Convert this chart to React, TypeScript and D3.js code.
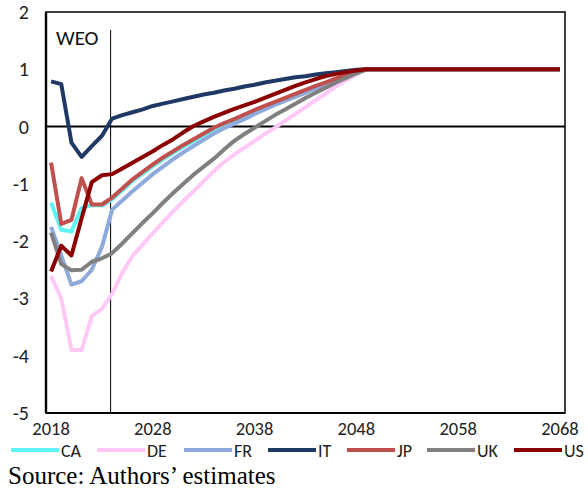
import * as d3 from "d3"

// years 2018..2068, one point per year
const years = d3.range(2018, 2069)

const xTicks = [2018, 2028, 2038, 2048, 2058, 2068]
const yTicks = [2, 1, 0, -1, -2, -3, -4, -5]

// WEO horizon marker (just before 2024 point)
const weoYear = 2023.85

const countries = ["CA", "DE", "FR", "IT", "JP", "UK", "US"]
const colors = ["#5ff4f4", "#ffc8f6", "#8eaadc", "#1f3864", "#c0504d", "#808080", "#8b0000"]

const flat = [1, 1, 1, 1, 1, 1, 1, 1, 1, 1, 1, 1, 1, 1, 1, 1, 1, 1, 1, 1]

const ca = [-1.33, -1.8, -1.83, -1.42, -1.37, -1.38, -1.27, -1.11, -0.95, -0.82, -0.69, -0.57, -0.46, -0.35, -0.25, -0.15, -0.05, 0.03, 0.1, 0.18, 0.26, 0.33, 0.4, 0.47, 0.54, 0.61, 0.68, 0.74, 0.81, 0.87, 0.93, ...flat]
const de = [-2.61, -3.0, -3.9, -3.9, -3.31, -3.18, -2.92, -2.55, -2.26, -2.06, -1.86, -1.67, -1.48, -1.3, -1.13, -0.95, -0.78, -0.62, -0.49, -0.37, -0.25, -0.13, -0.02, 0.1, 0.22, 0.34, 0.46, 0.58, 0.7, 0.81, 0.91, ...flat]
const fr = [-1.75, -2.25, -2.76, -2.7, -2.5, -2.1, -1.45, -1.29, -1.13, -0.98, -0.83, -0.7, -0.57, -0.45, -0.34, -0.23, -0.12, -0.03, 0.05, 0.13, 0.22, 0.3, 0.38, 0.45, 0.52, 0.59, 0.66, 0.73, 0.8, 0.87, 0.94, ...flat]
const it = [0.79, 0.74, -0.28, -0.53, -0.34, -0.16, 0.14, 0.2, 0.25, 0.3, 0.36, 0.4, 0.44, 0.48, 0.52, 0.56, 0.59, 0.63, 0.66, 0.7, 0.73, 0.77, 0.8, 0.83, 0.86, 0.88, 0.91, 0.93, 0.95, 0.97, 0.99, ...flat]
const jp = [-0.63, -1.7, -1.63, -0.9, -1.36, -1.36, -1.24, -1.08, -0.92, -0.79, -0.66, -0.54, -0.43, -0.32, -0.22, -0.12, -0.02, 0.06, 0.13, 0.21, 0.29, 0.36, 0.43, 0.5, 0.57, 0.64, 0.71, 0.77, 0.84, 0.9, 0.96, ...flat]
const uk = [-1.85, -2.4, -2.51, -2.5, -2.36, -2.3, -2.21, -2.04, -1.86, -1.68, -1.51, -1.33, -1.16, -1.0, -0.84, -0.7, -0.56, -0.4, -0.25, -0.13, -0.02, 0.09, 0.2, 0.3, 0.4, 0.5, 0.59, 0.68, 0.77, 0.85, 0.93, ...flat]
const us = [-2.53, -2.08, -2.25, -1.6, -0.97, -0.85, -0.83, -0.73, -0.63, -0.53, -0.43, -0.32, -0.22, -0.1, 0.01, 0.09, 0.17, 0.24, 0.31, 0.37, 0.43, 0.5, 0.57, 0.64, 0.71, 0.77, 0.83, 0.88, 0.92, 0.95, 0.98, ...flat]

const series = [ca, de, fr, it, jp, uk, us]

// legend item left edges (line start)
const legendX = [11, 97, 184, 268, 347, 427, 514]

const W = 588
const H = 489
const left = 46
const right = 565
const top = 12
const bottom = 413

const sans = "Carlito, Calibri, 'Open Sans', sans-serif"

export default function App() {
  const x = d3.scaleLinear().domain([2017.5, 2068.5]).range([left, right])
  const y = d3.scaleLinear().domain([-5, 2]).range([bottom, top])

  const line = d3
    .line<number>()
    .x((_, i) => x(years[i]))
    .y((d) => y(d))

  return (
    <svg
      width={W}
      height={H}
      style={{ position: "absolute", left: 0, top: 0, background: "#fff" }}
    >
      {/* plot frame */}
      <rect x={left} y={top} width={right - left} height={bottom - top} fill="none" stroke="#111" strokeWidth={1.6} />
      <line x1={left} x2={left} y1={top} y2={bottom} stroke="#000" strokeWidth={2.4} />
      <line x1={left} x2={right} y1={bottom} y2={bottom} stroke="#000" strokeWidth={2.2} />

      {/* zero line */}
      <line x1={left} x2={right} y1={y(0)} y2={y(0)} stroke="#000" strokeWidth={2} />

      {/* WEO marker */}
      <line x1={x(weoYear)} x2={x(weoYear)} y1={30} y2={bottom} stroke="#000" strokeWidth={1} />
      <text x={56} y={45} fontFamily={sans} fontSize={21} fill="#111">
        WEO
      </text>

      {/* series */}
      {series.map((s, i) => (
        <path
          key={countries[i]}
          d={line(s) ?? ""}
          fill="none"
          stroke={colors[i]}
          strokeWidth={4}
          strokeLinejoin="round"
        />
      ))}

      {/* y tick labels */}
      {yTicks.map((t) => (
        <text
          key={t}
          x={29}
          y={y(t)}
          textAnchor="end"
          dominantBaseline="central"
          fontFamily={sans}
          fontSize={20}
          fill="#222"
        >
          {t}
        </text>
      ))}

      {/* x tick labels */}
      {xTicks.map((t) => (
        <text key={t} x={x(t)} y={435} textAnchor="middle" fontFamily={sans} fontSize={18.5} fill="#222">
          {t}
        </text>
      ))}

      {/* legend */}
      {countries.map((c, i) => (
        <g key={c} transform={`translate(${legendX[i]},450)`}>
          <line x1={0} x2={48} y1={0} y2={0} stroke={colors[i]} strokeWidth={4} />
          <text x={50} y={6.5} fontFamily={sans} fontSize={18} fill="#222">
            {c}
          </text>
        </g>
      ))}

      <text x={8} y={483.5} fontFamily="'Liberation Serif', 'Times New Roman', serif" fontSize={25} fill="#000">
        Source: Authors’ estimates
      </text>
    </svg>
  )
}
